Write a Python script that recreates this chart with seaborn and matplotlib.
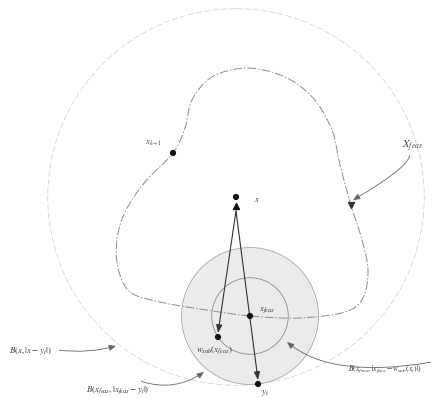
import numpy as np
import pandas as pd
import matplotlib
matplotlib.use("Agg")
import matplotlib.pyplot as plt
from matplotlib.patches import Circle, PathPatch
from matplotlib.path import Path
import seaborn as sns

sns.set_theme(style="white")
plt.rcParams['mathtext.fontset'] = 'stix'
plt.rcParams['font.family'] = ['Liberation Serif', 'DejaVu Serif']

# ---- data (diagram coordinates) ----
point_names = ["x", "x_k1", "x_feas", "w_sub", "y_t"]
point_x = [236, 173, 250, 218, 258]
point_y = [197, 153, 316, 337, 384]

# outline of the feasible set X_feas (closed curve, control points)
feas_x = [250, 200, 160, 130, 118, 117, 125, 145, 173, 185, 192, 212, 247, 285, 313, 332, 340, 351, 362, 368, 363, 345, 300]
feas_y = [316, 309, 302, 292, 268, 240, 212, 182, 153, 128, 100, 77, 68, 77, 98, 130, 165, 205, 240, 270, 298, 312, 318]

fig = plt.figure(figsize=(4.38, 3.98), dpi=100)
ax = fig.add_axes([0, 0, 1, 1])
ax.set_xlim(0, 438)
ax.set_ylim(398, 0)
ax.set_aspect('equal')
ax.axis('off')

P = dict(zip(point_names, zip(point_x, point_y)))
def dist(a, b):
    return np.hypot(P[a][0] - P[b][0], P[a][1] - P[b][1])

# balls
ax.add_patch(Circle(P["x"], dist("x", "y_t"), fill=False, ec="#d2d2d2", lw=0.55, ls=(0, (8, 3))))
ax.add_patch(Circle(P["x_feas"], dist("x_feas", "y_t"), fc="#ebebeb", ec="#a8a8a8", lw=0.6))
ax.add_patch(Circle(P["x_feas"], dist("x_feas", "w_sub"), fill=False, ec="#8a8a8a", lw=0.6))

# closed smooth curve (Catmull-Rom to cubic Bezier)
pts = np.column_stack([feas_x, feas_y]).astype(float)
n = len(pts)
verts = [pts[0]]
codes = [Path.MOVETO]
for i in range(n):
    p0, p1, p2, p3 = pts[i - 1], pts[i], pts[(i + 1) % n], pts[(i + 2) % n]
    c1 = p1 + (p2 - p0) / 6
    c2 = p2 - (p3 - p1) / 6
    verts += [c1, c2, p2]
    codes += [Path.CURVE4] * 3
ax.add_patch(PathPatch(Path(verts, codes), fill=False, ec="#8c8c8c", lw=0.7, ls=(0, (9, 2, 1.5, 2))))

# arrows from x
for tgt in ["w_sub", "y_t"]:
    sx, sy = P["x"][0], P["x"][1] + 14
    tx, ty = P[tgt][0], P[tgt][1] - 4
    ax.annotate("", xy=(tx, ty), xytext=(sx, sy),
                arrowprops=dict(arrowstyle="-|>,head_length=0.4,head_width=0.15", color="#333333", lw=0.8,
                                shrinkA=0, shrinkB=0))

# points
df = pd.DataFrame({"px": point_x, "py": point_y, "name": point_names})
sns.scatterplot(data=df, x="px", y="py", ax=ax, color="#111111", s=20, edgecolor="none", legend=False, zorder=6)
ax.scatter([P["x"][0]], [P["x"][1] + 9], marker="^", s=18, color="#111111", zorder=5)
ax.scatter([351], [205], marker="v", s=18, color="#333333", zorder=5)

fs = 6.4
tc = "#333333"
ax.text(254, 200, r"$x$", fontsize=fs, color=tc, va="center")
ax.text(145, 143, r"$x_{k+1}$", fontsize=fs, color="#444444", va="center")
ax.text(259, 310, r"$x_{feas}$", fontsize=fs, color=tc, va="center")
ax.text(196, 350, r"$w_{sub}(x_{feas})$", fontsize=fs, color=tc, va="center")
ax.text(261, 393, r"$y_t$", fontsize=fs, color=tc, va="center")
ax.text(402, 146, r"$X_{feas}$", fontsize=7.8, color="#444444", va="center")

ann = dict(arrowstyle="-|>,head_length=0.35,head_width=0.15", color="#666666", lw=0.6, shrinkA=1, shrinkB=0)
ax.annotate("", xy=(353, 200), xytext=(410, 154),
            arrowprops=dict(ann, connectionstyle="angle3,angleA=-90,angleB=30"))
ax.text(9, 351, r"$B(x,|x-y_t|)$", fontsize=fs, color=tc, va="center")
ax.annotate("", xy=(116, 346), xytext=(58, 350),
            arrowprops=dict(ann, connectionstyle="arc3,rad=0.1"))
ax.text(86, 390, r"$B(x_{feas},|x_{feas}-y_t|)$", fontsize=fs, color=tc, va="center")
ax.annotate("", xy=(204, 372), xytext=(140, 381),
            arrowprops=dict(ann, connectionstyle="arc3,rad=0.25"))
ax.text(348, 369, r"$B(x_{feas},|x_{feas}-w_{sub}(x_t)|)$", fontsize=5.6, color=tc, va="center")
ax.annotate("", xy=(287, 342), xytext=(432, 362),
            arrowprops=dict(ann, connectionstyle="angle3,angleA=10,angleB=-40"))

fig.savefig("out.png", dpi=100, facecolor="white")
